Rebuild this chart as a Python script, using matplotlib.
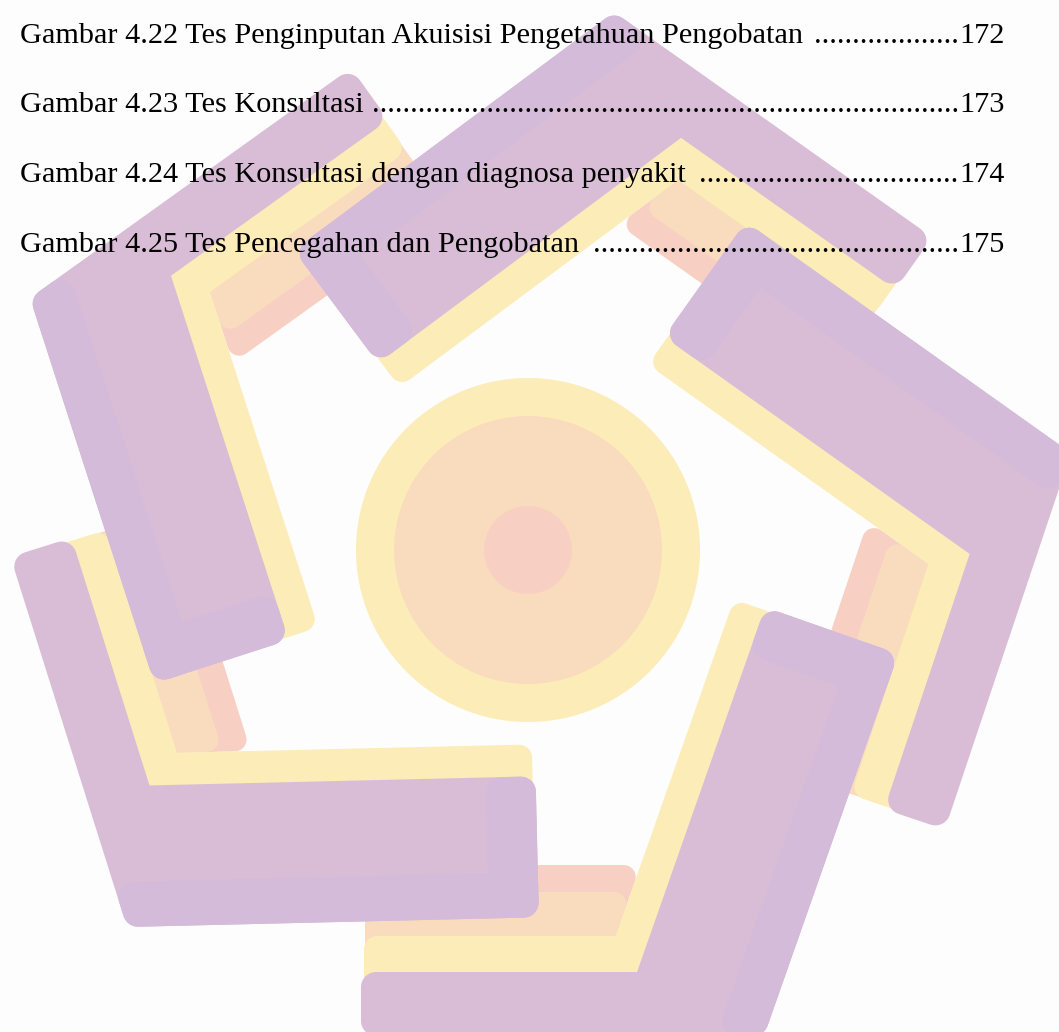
import numpy as np
import matplotlib
matplotlib.use("Agg")
import matplotlib.pyplot as plt
from matplotlib.patches import Polygon, Circle

# ---- content (list of figures page) ----
captions = [
    "Gambar 4.22 Tes Penginputan Akuisisi Pengetahuan Pengobatan",
    "Gambar 4.23 Tes Konsultasi",
    "Gambar 4.24 Tes Konsultasi dengan diagnosa penyakit",
    "Gambar 4.25 Tes Pencegahan dan Pengobatan",
]
pages = ["172", "173", "174", "175"]

# ---- layout ----
W, H = 1059, 1032
baselines = [43, 112, 182, 252]
x_left, x_right = 20, 1005
target_width_first = 782

# ---- watermark logo geometry (pixel space) ----
# corner, wide-arm direction, narrow-arm direction, wide length, narrow length
units = [
    dict(C=(30, 298), uw=(125, 387), un=(321, -230), Lw=405, Ln=395),     # upper-left
    dict(C=(614, 12), uw=(-320, 238), un=(318, 225), Lw=399, Ln=390),     # top
    dict(C=(1071, 453), uw=(-325, -231), un=(-126, 376), Lw=399, Ln=397), # right
    dict(C=(764, 1036), uw=(131, -373), un=(-1, 0), Lw=405, Ln=403),      # bottom-right
    dict(C=(127, 927), uw=(1, -0.0236), un=(-0.315, -1), Lw=412, Ln=388), # bottom-left
]
# each layer is drawn from (near) the outer edge to its inner offset; later
# layers cover the outer part.
# (narrow offsets, wide offsets, corner radius, length trim)
layers = {
    "pink":   ((4, 171), (173, 173), 12, 4),
    "peach":  ((4, 144), (173, 173), 12, 4),
    "yellow": ((4, 100), (4, 173), 13, 3),
    "purple": ((0, 64), (0, 141), 15, 0),
}
colors = {
    "pink": "#f8d0c3",
    "peach": "#f9dcbe",
    "yellow": "#fcecb8",
    "purple": "#d9bdd6",
    "purple2": "#d4bbd9",
}
circle_center = (528, 550)
circle_radii = [("yellow", 172), ("peach", 134), ("pink", 44)]


def unit_vec(v):
    v = np.asarray(v, float)
    return v / np.hypot(*v)


def normal_toward(u, other):
    n = np.array([-u[1], u[0]])
    if n @ other < 0:
        n = -n
    return n


def intersect(p, d, q, e):
    A = np.array([d, -e]).T
    t, s = np.linalg.solve(A, q - p)
    return p + t * d


def l_band(C, u1, n1, u2, n2, a1, b1, a2, b2, L1, L2):
    Po = intersect(C + a1 * n1, u1, C + a2 * n2, u2)
    Pi = intersect(C + b1 * n1, u1, C + b2 * n2, u2)
    pts = [C + a1 * n1 + L1 * u1, Po]
    if b2 > a2:
        pts += [C + a2 * n2 + L2 * u2, C + b2 * n2 + L2 * u2]
    pts += [Pi, C + b1 * n1 + L1 * u1]
    return np.array(pts)


def rounded(ax, pts, r, color, z):
    """Inset the polygon by r and stroke it with round joins of width 2r."""
    pts = np.asarray(pts, float)
    x, y = pts[:, 0], pts[:, 1]
    area = 0.5 * np.sum(x * np.roll(y, -1) - np.roll(x, -1) * y)
    n = len(pts)
    lines = []
    for i in range(n):
        p, q = pts[i], pts[(i + 1) % n]
        d = (q - p) / np.hypot(*(q - p))
        nl = np.array([-d[1], d[0]])
        if area < 0:
            nl = -nl
        lines.append((p + r * nl, d))
    new = [intersect(lines[i - 1][0], lines[i - 1][1], lines[i][0], lines[i][1])
           for i in range(n)]
    ax.add_patch(Polygon(new, closed=True, facecolor=color, edgecolor=color,
                         lw=2 * r * 0.72, joinstyle="round", zorder=z))


fig = plt.figure(figsize=(W / 100, H / 100), dpi=100)
fig.patch.set_facecolor("#fdfdfd")
ax = fig.add_axes([0, 0, 1, 1])
ax.set_xlim(0, W)
ax.set_ylim(H, 0)
ax.axis("off")
ax.set_facecolor("#fdfdfd")

geo = []
for u in units:
    C = np.array(u["C"], float)
    un = unit_vec(u["un"])
    uw = unit_vec(u["uw"])
    nn = normal_toward(un, uw)
    nw = normal_toward(uw, un)
    geo.append((C, un, nn, uw, nw, u["Ln"], u["Lw"]))

z = 1
for name in ["pink", "peach", "yellow", "purple"]:
    (a1, b1), (a2, b2), r, trim = layers[name]
    for C, un, nn, uw, nw, Ln, Lw in geo:
        pts = l_band(C, un, nn, uw, nw, a1, b1, a2, b2, Ln - trim, Lw - trim)
        rounded(ax, pts, r, colors[name], z)
    z += 1

# slightly bluer outer/end strips on the wide arms
edge_w, end_w = 45, 50
for C, un, nn, uw, nw, Ln, Lw in geo:
    P = intersect(C + edge_w * nw, uw, C, un)
    strip = np.array([C, C + Lw * uw, C + edge_w * nw + Lw * uw, P])
    rounded(ax, strip, 15, colors["purple2"], z)
    endp = np.array([C + (Lw - end_w) * uw, C + Lw * uw,
                     C + 141 * nw + Lw * uw, C + 141 * nw + (Lw - end_w) * uw])
    rounded(ax, endp, 15, colors["purple2"], z)
z += 1

for name, rr in circle_radii:
    ax.add_patch(Circle(circle_center, rr, facecolor=colors[name],
                        edgecolor="none", zorder=z))
    z += 1

# ---- text ----
font = "Liberation Serif"
fig.canvas.draw()
renderer = fig.canvas.get_renderer()

probe = ax.text(0, 0, captions[0], fontsize=20, family=font)
w20 = probe.get_window_extent(renderer).width
probe.remove()
fs = 20 * target_width_first / w20

dprobe = ax.text(0, 0, "." * 20, fontsize=fs, family=font)
dot_w = dprobe.get_window_extent(renderer).width / 20
dprobe.remove()
sprobe = ax.text(0, 0, "a a", fontsize=fs, family=font)
aprobe = ax.text(0, 0, "aa", fontsize=fs, family=font)
space_w = sprobe.get_window_extent(renderer).width - aprobe.get_window_extent(renderer).width
sprobe.remove()
aprobe.remove()

for cap, pg, yb in zip(captions, pages, baselines):
    t1 = ax.text(x_left, yb, cap, fontsize=fs, family=font, color="black",
                 va="baseline", ha="left", zorder=50)
    t2 = ax.text(x_right, yb, pg, fontsize=fs, family=font, color="black",
                 va="baseline", ha="right", zorder=50)
    cap_right = t1.get_window_extent(renderer).x1
    num_left = t2.get_window_extent(renderer).x0
    n = int((num_left - 1 - (cap_right + space_w)) / dot_w)
    ax.text(num_left - 1, yb, "." * n, fontsize=fs, family=font, color="black",
            va="baseline", ha="right", zorder=50)

fig.savefig("out.png", dpi=100, facecolor=fig.get_facecolor())
